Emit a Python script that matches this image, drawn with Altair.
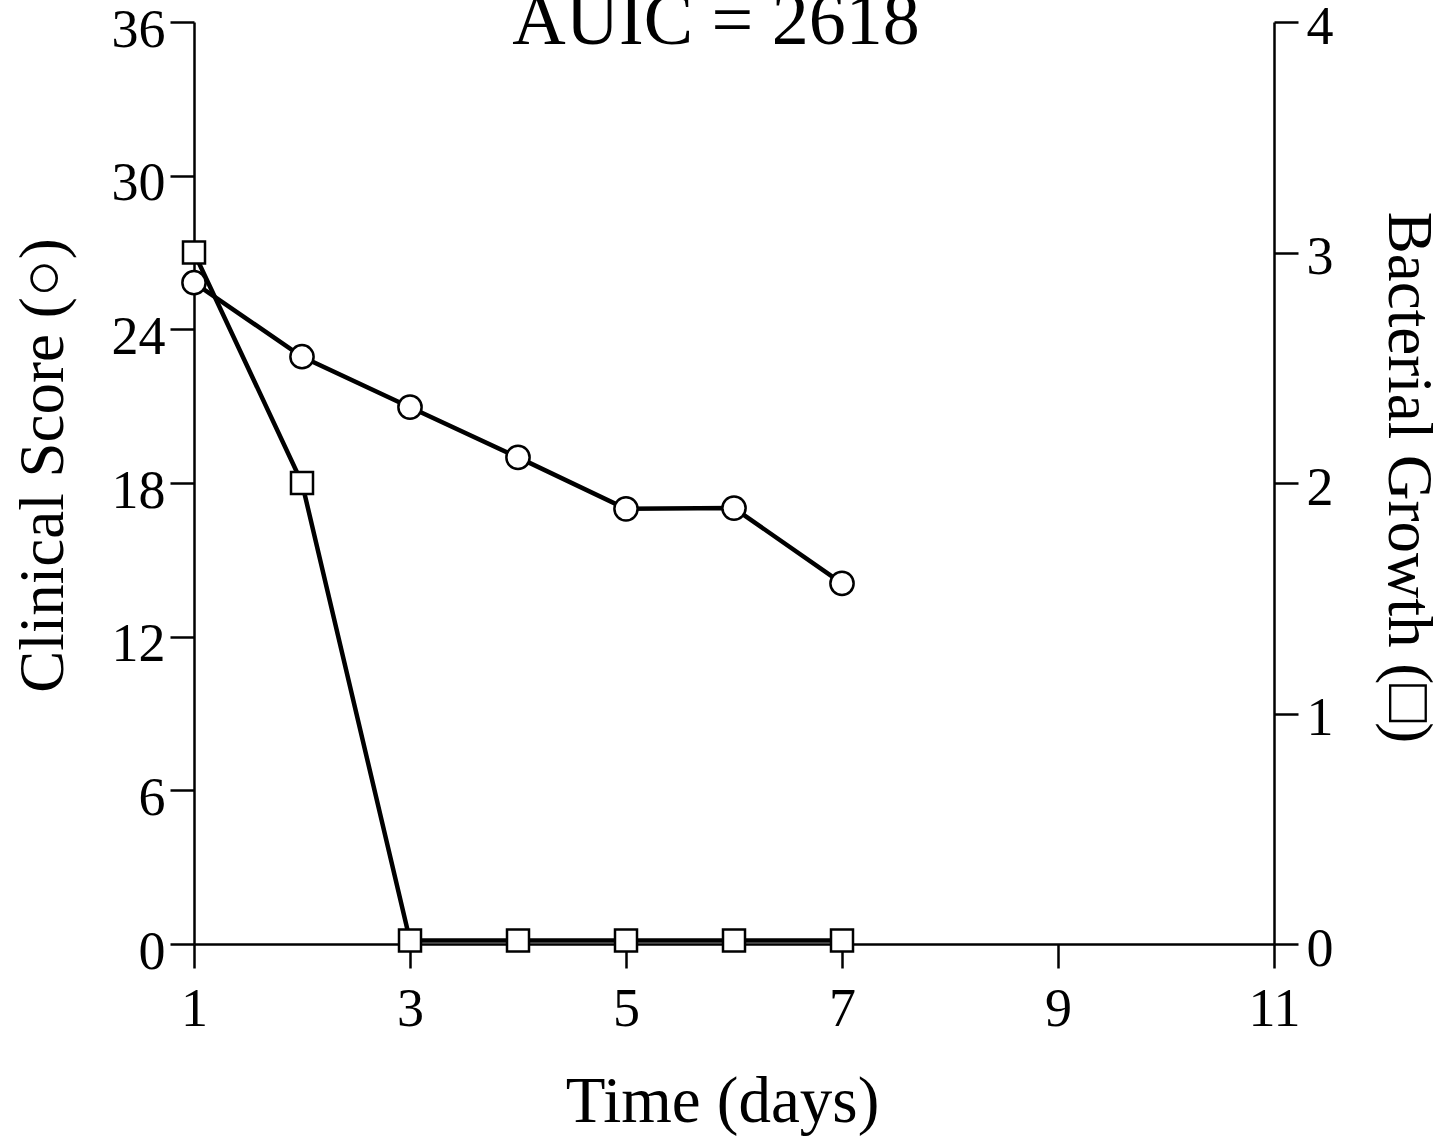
import altair as alt
import pandas as pd

# Data
days = [1, 2, 3, 4, 5, 6, 7]
clinical_score = [25.82, 22.93, 20.96, 19.0, 16.99, 17.02, 14.08]
bacterial_growth = [3.0, 2.0, 0.015, 0.015, 0.015, 0.015, 0.015]
x_ticks = [1, 3, 5, 7, 9, 11]
left_ticks = [0, 6, 12, 18, 24, 30, 36]
right_ticks = [0, 1, 2, 3, 4]
title_text = ["AUIC = 2618"]

df_c = pd.DataFrame({"day": days, "score": clinical_score})
df_s = pd.DataFrame({"day": days, "growth": bacterial_growth})
df_t = pd.DataFrame({"t": title_text})

FONT = "Liberation Serif"
common_axis = dict(
    domainColor="black", domainWidth=2.5, tickColor="black", tickWidth=2.5,
    tickSize=24, labelFont=FONT, labelFontSize=54, labelColor="black",
    titleFont=FONT, titleColor="black", titleFontWeight="normal",
    grid=False, labelFlush=False,
)

x_enc = alt.X(
    "day:Q",
    scale=alt.Scale(domain=[1, 11], nice=False, zero=False),
    axis=alt.Axis(values=x_ticks, title="Time (days)", labelPadding=14,
                  titlePadding=34, titleFontSize=65, titleX=528, **common_axis),
)

base_s = alt.Chart(df_s).encode(
    x=x_enc,
    y=alt.Y("growth:Q", scale=alt.Scale(domain=[0, 4], nice=False),
            axis=alt.Axis(orient="right", values=right_ticks,
                          title="Bacterial Growth (\u25a1)", labelPadding=8,
                          labelOffset=5, titlePadding=42, titleFontSize=63,
                          titleY=455, **common_axis)),
)
s_layer = alt.layer(
    base_s.mark_line(color="black", strokeWidth=4.5),
    base_s.mark_point(shape="square", size=484, filled=True, fill="white",
                      stroke="black", strokeWidth=2.5, opacity=1),
)

base_c = alt.Chart(df_c).encode(
    x=x_enc,
    y=alt.Y("score:Q", scale=alt.Scale(domain=[0, 36], nice=False),
            axis=alt.Axis(orient="left", values=left_ticks,
                          title="Clinical Score (\u25cb)", labelPadding=5,
                          labelOffset=8, titlePadding=36, titleFontSize=63,
                          titleY=443, **common_axis)),
)
c_layer = alt.layer(
    base_c.mark_line(color="black", strokeWidth=4.5),
    base_c.mark_point(shape="circle", size=540, filled=True, fill="white",
                      stroke="black", strokeWidth=2.5, opacity=1),
)

title_layer = alt.Chart(df_t).mark_text(
    font=FONT, fontSize=74, color="black", align="center", baseline="alphabetic"
).encode(text="t:N", x=alt.value(522), y=alt.value(22))

chart = alt.layer(s_layer, c_layer, title_layer).resolve_scale(
    y="independent"
).properties(
    width=1080, height=922,
    background="white",
    autosize=alt.AutoSizeParams(type="none"),
    padding={"left": 194, "top": 22, "right": 170, "bottom": 194},
).configure_view(stroke=None)

chart.save("out.html", embed_options={"renderer": "svg", "actions": False})
